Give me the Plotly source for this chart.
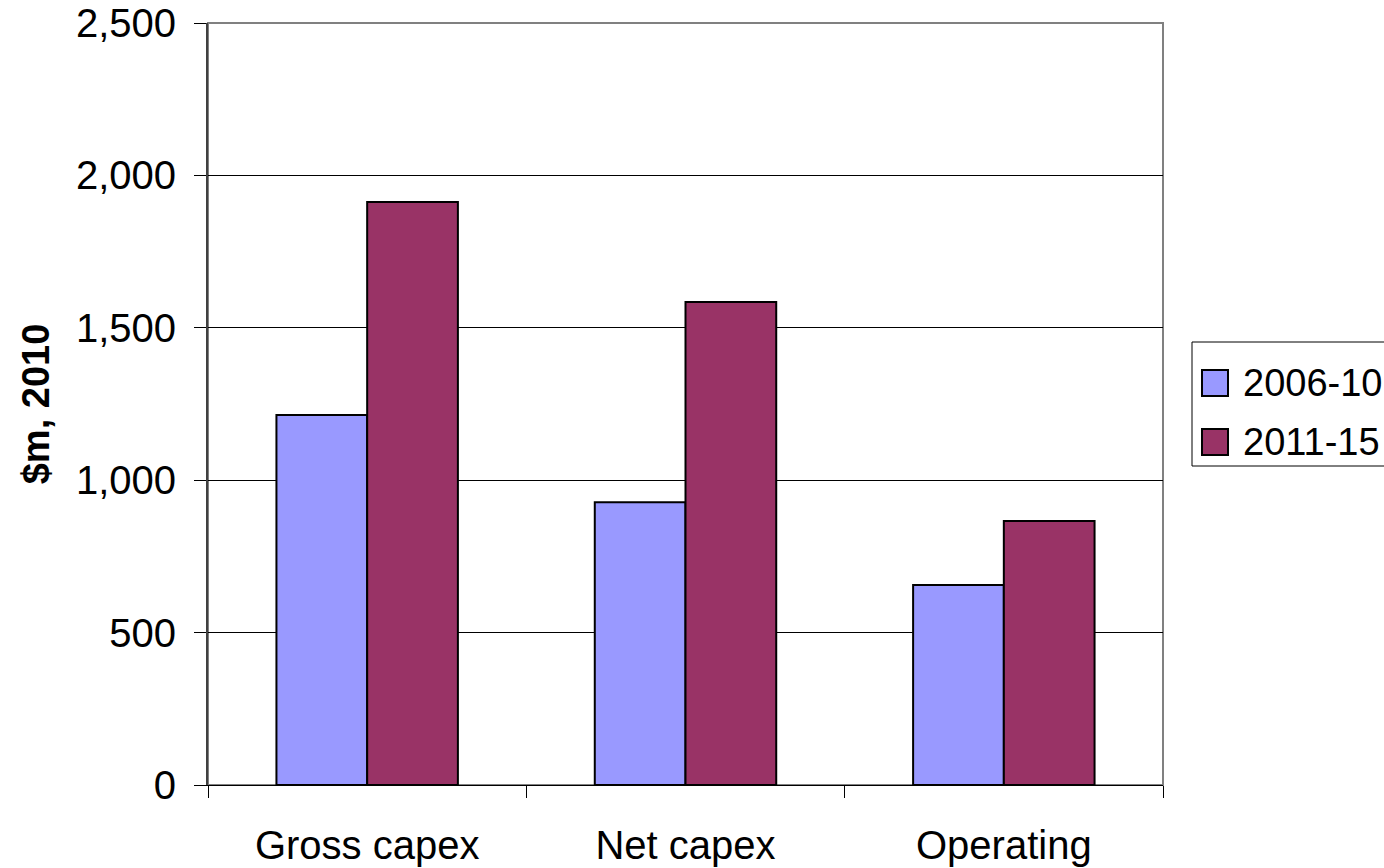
import plotly.graph_objects as go

categories = ["Gross capex", "Net capex", "Operating"]
series_names = ["2006-10", "2011-15"]
values_2006_10 = [1214, 928, 656]
values_2011_15 = [1913, 1585, 866]
y_ticks = [0, 500, 1000, 1500, 2000, 2500]

colors = ["#9999FF", "#993366"]

# plot area in pixels, used to place the legend box in paper coordinates
W, H = 1384, 868
L, R, T, B = 208, 221, 23, 83
pw, ph = W - L - R, H - T - B


def px_x(px):
    return (px - L) / pw


def px_y(py):
    return (H - B - py) / ph


fig = go.Figure()
for name, vals, col in zip(series_names, [values_2006_10, values_2011_15], colors):
    fig.add_trace(go.Bar(
        name=name, x=categories, y=vals, showlegend=False,
        marker=dict(color=col, line=dict(color="black", width=2)),
    ))

# legend drawn as a framed box with square swatches
shapes = [
    dict(type="rect", xref="paper", yref="paper", x0=0, x1=1, y0=0, y1=1,
         line=dict(color="#808080", width=2), layer="below"),
    dict(type="rect", xref="paper", yref="paper",
         x0=px_x(1192), x1=px_x(1400), y0=px_y(466), y1=px_y(342),
         line=dict(color="black", width=1), fillcolor="white"),
]
annotations = []
for i, (name, col) in enumerate(zip(series_names, colors)):
    cy = 383 + 59 * i
    shapes.append(dict(type="rect", xref="paper", yref="paper",
                       x0=px_x(1202), x1=px_x(1228), y0=px_y(cy + 13), y1=px_y(cy - 13),
                       line=dict(color="black", width=2), fillcolor=col))
    annotations.append(dict(xref="paper", yref="paper", x=px_x(1241), y=px_y(cy),
                            xanchor="left", yanchor="middle", text=name, showarrow=False,
                            font=dict(size=38)))

fig.update_layout(
    width=W, height=H,
    margin=dict(l=L, r=R, t=T, b=B, autoexpand=False),
    paper_bgcolor="white", plot_bgcolor="white",
    barmode="group", bargap=0.43, bargroupgap=0,
    font=dict(family="Liberation Sans, Arial, sans-serif", color="black", size=40),
    showlegend=False,
    shapes=shapes,
    annotations=annotations,
)
fig.update_yaxes(
    range=[0, 2500], tickvals=y_ticks, tickformat=",",
    showgrid=True, gridcolor="black", gridwidth=1,
    ticks="outside", ticklen=12, tickcolor="black",
    showline=True, linecolor="#404040", linewidth=2,
    zeroline=False, ticklabelstandoff=10,
    title=dict(text="<b>$m, 2010</b>", font=dict(size=38), standoff=15),
    tickfont=dict(size=40),
)
fig.update_xaxes(
    type="category", tickson="boundaries",
    ticks="outside", ticklen=12, tickcolor="black",
    showline=True, linecolor="black", linewidth=1,
    tickfont=dict(size=40), showgrid=False, ticklabelstandoff=25,
)

fig.write_html("out.html")
